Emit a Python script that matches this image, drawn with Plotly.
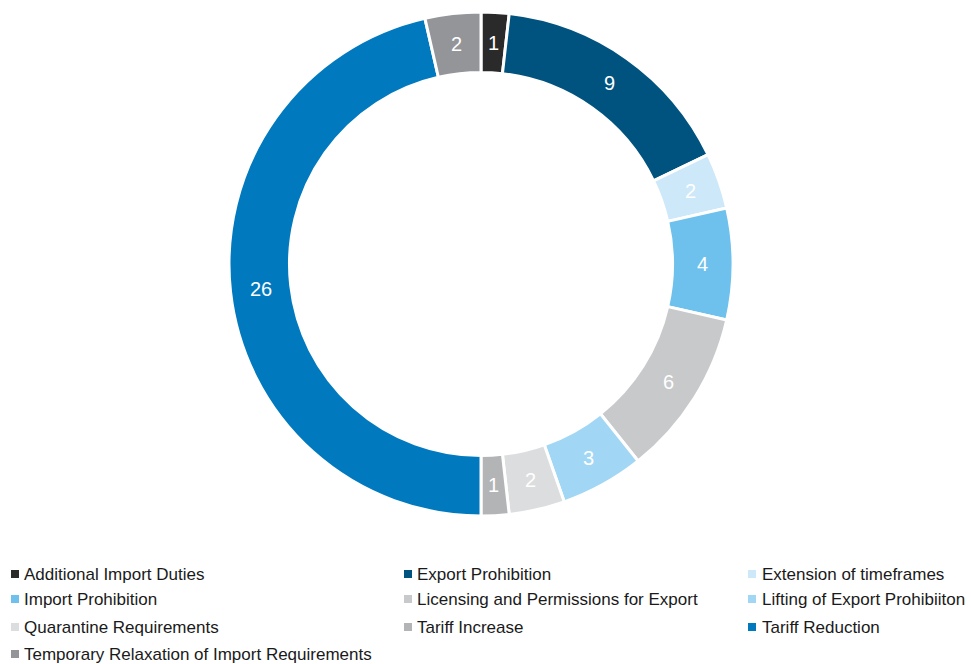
import math
import plotly.graph_objects as go

categories = [
    "Additional Import Duties",
    "Export Prohibition",
    "Extension of timeframes",
    "Import Prohibition",
    "Licensing and Permissions for Export",
    "Lifting of Export Prohibiiton",
    "Quarantine Requirements",
    "Tariff Increase",
    "Tariff Reduction",
    "Temporary Relaxation of Import Requirements",
]
values = [1, 9, 2, 4, 6, 3, 2, 1, 26, 2]
colors = [
    "#2a2a2a", "#00527f", "#cce8f9", "#6ec1ec", "#c8c9cb",
    "#a1d7f5", "#dcddde", "#b2b4b6", "#0079bf", "#939598",
]

W, H = 971, 664
FONT = "Liberation Sans, Arial, sans-serif"

# donut geometry (pixels)
CX, CY, R_OUT = 481, 264, 252
HOLE = 0.76

fig = go.Figure(go.Pie(
    labels=categories,
    values=values,
    marker=dict(colors=colors, line=dict(color="white", width=3)),
    hole=HOLE,
    sort=False,
    direction="clockwise",
    rotation=0,
    textinfo="none",
    domain=dict(x=[(CX - R_OUT) / W, (CX + R_OUT) / W],
                y=[1 - (CY + R_OUT) / H, 1 - (CY - R_OUT) / H]),
    showlegend=False,
    hoverinfo="label+value",
))

annotations = []

# value labels centred in each ring segment
total = sum(values)
r_mid = R_OUT * (1 + HOLE) / 2
cum = 0
for v in values:
    frac = (cum + v / 2) / total
    theta = math.radians(90 - 360 * frac)
    annotations.append(dict(
        text=str(v), xref="paper", yref="paper",
        x=(CX + r_mid * math.cos(theta)) / W,
        y=1 - (CY - r_mid * math.sin(theta)) / H,
        xanchor="center", yanchor="middle", showarrow=False,
        font=dict(family=FONT, size=20, color="white"),
    ))
    cum += v

# legend built from annotations + shapes in a 3-column grid
col_sq = [11, 404, 748]
col_tx = [22, 415, 760]
row_y = [574, 599, 627, 654]
shapes = []
for i, (cat, col) in enumerate(zip(categories, colors)):
    r, c = divmod(i, 3)
    y = row_y[r]
    x0 = col_sq[c]
    shapes.append(dict(
        type="rect", xref="paper", yref="paper",
        x0=x0 / W, x1=(x0 + 8) / W,
        y0=1 - (y + 4) / H, y1=1 - (y - 4) / H,
        fillcolor=col, line=dict(width=0),
    ))
    annotations.append(dict(
        text=cat, xref="paper", yref="paper",
        x=col_tx[c] / W, y=1 - y / H,
        xanchor="left", yanchor="middle", showarrow=False,
        font=dict(family=FONT, size=17, color="#1a1a1a"),
    ))

fig.update_layout(
    width=W, height=H,
    margin=dict(l=0, r=0, t=0, b=0),
    paper_bgcolor="white",
    plot_bgcolor="white",
    shapes=shapes,
    annotations=annotations,
    font=dict(family=FONT),
)

fig.write_html("out.html")
